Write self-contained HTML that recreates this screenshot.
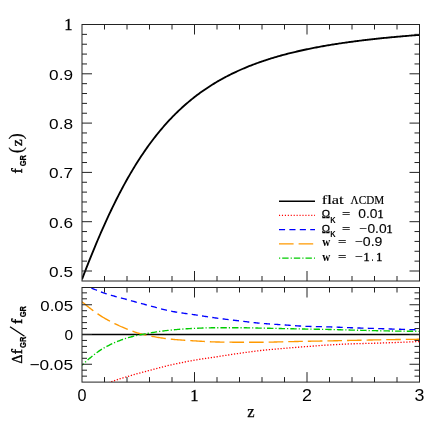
<!DOCTYPE html>
<html><head><meta charset="utf-8"><title>f_GR(z)</title>
<style>
html,body{margin:0;padding:0;background:#fff;}
body{width:443px;height:443px;overflow:hidden;font-family:"Liberation Sans",sans-serif;}
svg{display:block;will-change:transform;opacity:0.999;}
text{fill:#000;}
</style></head>
<body>
<svg width="443" height="443" viewBox="0 0 443 443">
<rect x="0" y="0" width="443" height="443" fill="#fff"/>
<defs>
<clipPath id="c1"><rect x="82.0" y="24.5" width="337.5" height="256.5"/></clipPath>
<clipPath id="c2"><rect x="82.0" y="287.5" width="337.5" height="94.60000000000002"/></clipPath>
</defs>
<g fill="none" stroke-width="1.35" clip-path="url(#c2)">
<path d="M82.0,334.5H419.5" stroke="#000" stroke-width="1.5"/>
<path d="M82.00,395.27 L83.12,394.65 L84.25,394.05 L85.38,393.45 L86.50,392.86 L87.62,392.27 L88.75,391.70 L89.88,391.13 L91.00,390.57 L92.12,390.02 L93.25,389.47 L94.38,388.93 L95.50,388.40 L96.62,387.88 L97.75,387.37 L98.88,386.86 L100.00,386.36 L101.12,385.87 L102.25,385.39 L103.38,384.91 L104.50,384.44 L105.62,383.98 L106.75,383.53 L107.88,383.08 L109.00,382.64 L110.12,382.21 L111.25,381.78 L112.38,381.37 L113.50,380.96 L114.62,380.57 L115.75,380.19 L116.88,379.81 L118.00,379.45 L119.12,379.09 L120.25,378.74 L121.38,378.39 L122.50,378.04 L123.62,377.70 L124.75,377.36 L125.88,377.02 L127.00,376.69 L128.12,376.35 L129.25,376.01 L130.38,375.68 L131.50,375.35 L132.62,375.02 L133.75,374.70 L134.88,374.38 L136.00,374.06 L137.12,373.74 L138.25,373.43 L139.38,373.11 L140.50,372.80 L141.62,372.49 L142.75,372.19 L143.88,371.88 L145.00,371.58 L146.12,371.27 L147.25,370.97 L148.38,370.67 L149.50,370.37 L150.62,370.07 L151.75,369.78 L152.88,369.48 L154.00,369.18 L155.12,368.88 L156.25,368.59 L157.38,368.29 L158.50,368.00 L159.62,367.71 L160.75,367.42 L161.88,367.14 L163.00,366.85 L164.12,366.57 L165.25,366.30 L166.38,366.02 L167.50,365.75 L168.62,365.48 L169.75,365.22 L170.88,364.96 L172.00,364.71 L173.12,364.46 L174.25,364.21 L175.38,363.96 L176.50,363.72 L177.62,363.47 L178.75,363.23 L179.88,362.99 L181.00,362.76 L182.12,362.52 L183.25,362.29 L184.38,362.07 L185.50,361.84 L186.62,361.62 L187.75,361.40 L188.88,361.19 L190.00,360.98 L191.12,360.77 L192.25,360.56 L193.38,360.36 L194.50,360.17 L195.62,359.97 L196.75,359.78 L197.88,359.60 L199.00,359.42 L200.12,359.24 L201.25,359.07 L202.38,358.90 L203.50,358.73 L204.62,358.56 L205.75,358.39 L206.88,358.23 L208.00,358.07 L209.12,357.90 L210.25,357.74 L211.38,357.58 L212.50,357.41 L213.62,357.25 L214.75,357.08 L215.88,356.91 L217.00,356.74 L218.12,356.57 L219.25,356.40 L220.38,356.22 L221.50,356.05 L222.62,355.88 L223.75,355.70 L224.88,355.53 L226.00,355.35 L227.12,355.17 L228.25,355.00 L229.38,354.83 L230.50,354.65 L231.62,354.48 L232.75,354.31 L233.88,354.14 L235.00,353.97 L236.12,353.81 L237.25,353.64 L238.38,353.48 L239.50,353.32 L240.62,353.16 L241.75,353.00 L242.88,352.84 L244.00,352.69 L245.12,352.53 L246.25,352.37 L247.38,352.21 L248.50,352.06 L249.62,351.90 L250.75,351.75 L251.88,351.60 L253.00,351.45 L254.12,351.30 L255.25,351.16 L256.38,351.02 L257.50,350.88 L258.62,350.75 L259.75,350.62 L260.88,350.49 L262.00,350.37 L263.12,350.25 L264.25,350.14 L265.38,350.03 L266.50,349.92 L267.62,349.81 L268.75,349.71 L269.88,349.61 L271.00,349.50 L272.12,349.41 L273.25,349.31 L274.38,349.21 L275.50,349.12 L276.62,349.02 L277.75,348.93 L278.88,348.84 L280.00,348.74 L281.12,348.65 L282.25,348.55 L283.38,348.46 L284.50,348.37 L285.62,348.27 L286.75,348.17 L287.88,348.08 L289.00,347.98 L290.12,347.89 L291.25,347.80 L292.38,347.70 L293.50,347.61 L294.62,347.52 L295.75,347.42 L296.88,347.33 L298.00,347.24 L299.12,347.15 L300.25,347.06 L301.38,346.97 L302.50,346.88 L303.62,346.80 L304.75,346.71 L305.88,346.62 L307.00,346.54 L308.12,346.45 L309.25,346.37 L310.38,346.28 L311.50,346.19 L312.62,346.11 L313.75,346.02 L314.88,345.94 L316.00,345.86 L317.12,345.77 L318.25,345.69 L319.38,345.61 L320.50,345.53 L321.62,345.45 L322.75,345.37 L323.88,345.30 L325.00,345.22 L326.12,345.15 L327.25,345.08 L328.38,345.01 L329.50,344.94 L330.62,344.88 L331.75,344.81 L332.88,344.75 L334.00,344.68 L335.12,344.62 L336.25,344.56 L337.38,344.49 L338.50,344.43 L339.62,344.37 L340.75,344.31 L341.88,344.26 L343.00,344.20 L344.12,344.15 L345.25,344.09 L346.38,344.04 L347.50,344.00 L348.62,343.95 L349.75,343.90 L350.88,343.86 L352.00,343.82 L353.12,343.78 L354.25,343.75 L355.38,343.72 L356.50,343.68 L357.62,343.65 L358.75,343.62 L359.88,343.59 L361.00,343.57 L362.12,343.54 L363.25,343.51 L364.38,343.49 L365.50,343.46 L366.62,343.44 L367.75,343.41 L368.88,343.38 L370.00,343.35 L371.12,343.33 L372.25,343.30 L373.38,343.26 L374.50,343.23 L375.62,343.20 L376.75,343.16 L377.88,343.13 L379.00,343.09 L380.12,343.06 L381.25,343.02 L382.38,342.98 L383.50,342.95 L384.62,342.91 L385.75,342.87 L386.88,342.83 L388.00,342.79 L389.12,342.75 L390.25,342.71 L391.38,342.67 L392.50,342.63 L393.62,342.59 L394.75,342.55 L395.88,342.51 L397.00,342.46 L398.12,342.42 L399.25,342.38 L400.38,342.34 L401.50,342.29 L402.62,342.25 L403.75,342.20 L404.88,342.16 L406.00,342.11 L407.12,342.06 L408.25,342.02 L409.38,341.97 L410.50,341.92 L411.62,341.87 L412.75,341.82 L413.88,341.77 L415.00,341.72 L416.12,341.67 L417.25,341.62 L418.38,341.57 L419.50,341.52" stroke="#ff0000" stroke-dasharray="1.25 1.68" stroke-width="1.3"/>
<path d="M82.00,283.47 L83.12,284.04 L84.25,284.61 L85.38,285.18 L86.50,285.73 L87.62,286.27 L88.75,286.79 L89.88,287.30 L91.00,287.80 L92.12,288.29 L93.25,288.79 L94.38,289.27 L95.50,289.75 L96.62,290.22 L97.75,290.68 L98.88,291.13 L100.00,291.57 L101.12,292.00 L102.25,292.41 L103.38,292.81 L104.50,293.20 L105.62,293.57 L106.75,293.94 L107.88,294.29 L109.00,294.63 L110.12,294.97 L111.25,295.30 L112.38,295.62 L113.50,295.93 L114.62,296.25 L115.75,296.55 L116.88,296.86 L118.00,297.16 L119.12,297.46 L120.25,297.75 L121.38,298.05 L122.50,298.35 L123.62,298.65 L124.75,298.96 L125.88,299.26 L127.00,299.57 L128.12,299.88 L129.25,300.20 L130.38,300.51 L131.50,300.82 L132.62,301.13 L133.75,301.45 L134.88,301.76 L136.00,302.07 L137.12,302.38 L138.25,302.69 L139.38,302.99 L140.50,303.30 L141.62,303.61 L142.75,303.91 L143.88,304.21 L145.00,304.52 L146.12,304.82 L147.25,305.12 L148.38,305.41 L149.50,305.71 L150.62,306.00 L151.75,306.31 L152.88,306.61 L154.00,306.92 L155.12,307.22 L156.25,307.53 L157.38,307.84 L158.50,308.14 L159.62,308.45 L160.75,308.75 L161.88,309.04 L163.00,309.34 L164.12,309.62 L165.25,309.90 L166.38,310.17 L167.50,310.43 L168.62,310.68 L169.75,310.92 L170.88,311.15 L172.00,311.37 L173.12,311.58 L174.25,311.78 L175.38,311.97 L176.50,312.15 L177.62,312.33 L178.75,312.51 L179.88,312.67 L181.00,312.84 L182.12,313.00 L183.25,313.16 L184.38,313.31 L185.50,313.47 L186.62,313.62 L187.75,313.78 L188.88,313.93 L190.00,314.09 L191.12,314.24 L192.25,314.40 L193.38,314.57 L194.50,314.74 L195.62,314.91 L196.75,315.08 L197.88,315.25 L199.00,315.43 L200.12,315.60 L201.25,315.78 L202.38,315.96 L203.50,316.14 L204.62,316.31 L205.75,316.49 L206.88,316.67 L208.00,316.84 L209.12,317.02 L210.25,317.19 L211.38,317.36 L212.50,317.52 L213.62,317.69 L214.75,317.85 L215.88,318.00 L217.00,318.16 L218.12,318.31 L219.25,318.45 L220.38,318.60 L221.50,318.74 L222.62,318.88 L223.75,319.02 L224.88,319.16 L226.00,319.30 L227.12,319.43 L228.25,319.56 L229.38,319.70 L230.50,319.83 L231.62,319.96 L232.75,320.09 L233.88,320.22 L235.00,320.35 L236.12,320.48 L237.25,320.61 L238.38,320.74 L239.50,320.87 L240.62,321.00 L241.75,321.14 L242.88,321.27 L244.00,321.41 L245.12,321.55 L246.25,321.68 L247.38,321.82 L248.50,321.96 L249.62,322.09 L250.75,322.23 L251.88,322.36 L253.00,322.49 L254.12,322.62 L255.25,322.74 L256.38,322.87 L257.50,322.98 L258.62,323.10 L259.75,323.21 L260.88,323.31 L262.00,323.41 L263.12,323.50 L264.25,323.59 L265.38,323.68 L266.50,323.77 L267.62,323.85 L268.75,323.93 L269.88,324.01 L271.00,324.08 L272.12,324.16 L273.25,324.23 L274.38,324.30 L275.50,324.37 L276.62,324.44 L277.75,324.51 L278.88,324.58 L280.00,324.66 L281.12,324.73 L282.25,324.80 L283.38,324.87 L284.50,324.94 L285.62,325.02 L286.75,325.09 L287.88,325.17 L289.00,325.25 L290.12,325.33 L291.25,325.42 L292.38,325.50 L293.50,325.58 L294.62,325.66 L295.75,325.74 L296.88,325.81 L298.00,325.89 L299.12,325.96 L300.25,326.03 L301.38,326.10 L302.50,326.16 L303.62,326.22 L304.75,326.27 L305.88,326.32 L307.00,326.36 L308.12,326.40 L309.25,326.43 L310.38,326.46 L311.50,326.49 L312.62,326.52 L313.75,326.54 L314.88,326.57 L316.00,326.59 L317.12,326.62 L318.25,326.64 L319.38,326.66 L320.50,326.68 L321.62,326.70 L322.75,326.73 L323.88,326.75 L325.00,326.77 L326.12,326.80 L327.25,326.83 L328.38,326.86 L329.50,326.89 L330.62,326.92 L331.75,326.96 L332.88,327.00 L334.00,327.04 L335.12,327.08 L336.25,327.13 L337.38,327.17 L338.50,327.22 L339.62,327.27 L340.75,327.32 L341.88,327.36 L343.00,327.41 L344.12,327.46 L345.25,327.51 L346.38,327.56 L347.50,327.60 L348.62,327.65 L349.75,327.69 L350.88,327.73 L352.00,327.77 L353.12,327.81 L354.25,327.85 L355.38,327.89 L356.50,327.93 L357.62,327.96 L358.75,328.00 L359.88,328.03 L361.00,328.07 L362.12,328.10 L363.25,328.14 L364.38,328.17 L365.50,328.21 L366.62,328.24 L367.75,328.27 L368.88,328.31 L370.00,328.34 L371.12,328.38 L372.25,328.41 L373.38,328.45 L374.50,328.48 L375.62,328.52 L376.75,328.55 L377.88,328.59 L379.00,328.62 L380.12,328.66 L381.25,328.70 L382.38,328.73 L383.50,328.77 L384.62,328.80 L385.75,328.84 L386.88,328.88 L388.00,328.91 L389.12,328.95 L390.25,328.98 L391.38,329.02 L392.50,329.05 L393.62,329.09 L394.75,329.12 L395.88,329.16 L397.00,329.19 L398.12,329.22 L399.25,329.26 L400.38,329.29 L401.50,329.32 L402.62,329.36 L403.75,329.39 L404.88,329.42 L406.00,329.46 L407.12,329.49 L408.25,329.52 L409.38,329.55 L410.50,329.59 L411.62,329.62 L412.75,329.65 L413.88,329.68 L415.00,329.71 L416.12,329.75 L417.25,329.78 L418.38,329.81 L419.50,329.84" stroke="#0000ff" stroke-dasharray="6.1 4.3"/>
<path d="M82.00,301.70 L83.12,302.65 L84.25,303.60 L85.38,304.53 L86.50,305.45 L87.62,306.36 L88.75,307.25 L89.88,308.13 L91.00,309.00 L92.12,309.85 L93.25,310.69 L94.38,311.51 L95.50,312.32 L96.62,313.11 L97.75,313.88 L98.88,314.64 L100.00,315.38 L101.12,316.10 L102.25,316.81 L103.38,317.49 L104.50,318.16 L105.62,318.81 L106.75,319.45 L107.88,320.07 L109.00,320.69 L110.12,321.30 L111.25,321.89 L112.38,322.47 L113.50,323.04 L114.62,323.61 L115.75,324.16 L116.88,324.70 L118.00,325.22 L119.12,325.74 L120.25,326.25 L121.38,326.75 L122.50,327.23 L123.62,327.71 L124.75,328.17 L125.88,328.63 L127.00,329.07 L128.12,329.51 L129.25,329.95 L130.38,330.38 L131.50,330.80 L132.62,331.22 L133.75,331.62 L134.88,332.02 L136.00,332.40 L137.12,332.77 L138.25,333.13 L139.38,333.47 L140.50,333.79 L141.62,334.09 L142.75,334.37 L143.88,334.63 L145.00,334.88 L146.12,335.13 L147.25,335.37 L148.38,335.61 L149.50,335.84 L150.62,336.07 L151.75,336.29 L152.88,336.50 L154.00,336.71 L155.12,336.92 L156.25,337.12 L157.38,337.31 L158.50,337.50 L159.62,337.68 L160.75,337.86 L161.88,338.03 L163.00,338.19 L164.12,338.35 L165.25,338.50 L166.38,338.65 L167.50,338.79 L168.62,338.92 L169.75,339.05 L170.88,339.17 L172.00,339.28 L173.12,339.39 L174.25,339.49 L175.38,339.59 L176.50,339.68 L177.62,339.78 L178.75,339.86 L179.88,339.95 L181.00,340.03 L182.12,340.11 L183.25,340.19 L184.38,340.26 L185.50,340.33 L186.62,340.40 L187.75,340.47 L188.88,340.54 L190.00,340.61 L191.12,340.67 L192.25,340.74 L193.38,340.81 L194.50,340.87 L195.62,340.94 L196.75,341.01 L197.88,341.08 L199.00,341.14 L200.12,341.21 L201.25,341.28 L202.38,341.35 L203.50,341.42 L204.62,341.48 L205.75,341.55 L206.88,341.61 L208.00,341.67 L209.12,341.72 L210.25,341.78 L211.38,341.82 L212.50,341.87 L213.62,341.91 L214.75,341.94 L215.88,341.97 L217.00,341.99 L218.12,342.01 L219.25,342.03 L220.38,342.05 L221.50,342.07 L222.62,342.08 L223.75,342.10 L224.88,342.12 L226.00,342.13 L227.12,342.15 L228.25,342.16 L229.38,342.17 L230.50,342.18 L231.62,342.19 L232.75,342.20 L233.88,342.21 L235.00,342.22 L236.12,342.22 L237.25,342.23 L238.38,342.23 L239.50,342.23 L240.62,342.23 L241.75,342.23 L242.88,342.23 L244.00,342.23 L245.12,342.23 L246.25,342.23 L247.38,342.23 L248.50,342.23 L249.62,342.23 L250.75,342.23 L251.88,342.23 L253.00,342.23 L254.12,342.23 L255.25,342.23 L256.38,342.23 L257.50,342.23 L258.62,342.23 L259.75,342.23 L260.88,342.23 L262.00,342.23 L263.12,342.23 L264.25,342.22 L265.38,342.21 L266.50,342.20 L267.62,342.18 L268.75,342.16 L269.88,342.13 L271.00,342.11 L272.12,342.08 L273.25,342.05 L274.38,342.02 L275.50,341.99 L276.62,341.96 L277.75,341.93 L278.88,341.90 L280.00,341.87 L281.12,341.84 L282.25,341.81 L283.38,341.78 L284.50,341.76 L285.62,341.73 L286.75,341.71 L287.88,341.69 L289.00,341.66 L290.12,341.64 L291.25,341.61 L292.38,341.59 L293.50,341.57 L294.62,341.54 L295.75,341.52 L296.88,341.49 L298.00,341.47 L299.12,341.45 L300.25,341.42 L301.38,341.40 L302.50,341.38 L303.62,341.35 L304.75,341.33 L305.88,341.31 L307.00,341.29 L308.12,341.26 L309.25,341.24 L310.38,341.22 L311.50,341.20 L312.62,341.18 L313.75,341.16 L314.88,341.14 L316.00,341.12 L317.12,341.10 L318.25,341.08 L319.38,341.06 L320.50,341.04 L321.62,341.02 L322.75,341.00 L323.88,340.98 L325.00,340.96 L326.12,340.94 L327.25,340.92 L328.38,340.89 L329.50,340.87 L330.62,340.85 L331.75,340.83 L332.88,340.80 L334.00,340.78 L335.12,340.76 L336.25,340.74 L337.38,340.71 L338.50,340.69 L339.62,340.66 L340.75,340.64 L341.88,340.62 L343.00,340.59 L344.12,340.57 L345.25,340.54 L346.38,340.52 L347.50,340.50 L348.62,340.47 L349.75,340.45 L350.88,340.42 L352.00,340.40 L353.12,340.38 L354.25,340.35 L355.38,340.33 L356.50,340.30 L357.62,340.28 L358.75,340.26 L359.88,340.23 L361.00,340.21 L362.12,340.18 L363.25,340.16 L364.38,340.14 L365.50,340.11 L366.62,340.09 L367.75,340.06 L368.88,340.04 L370.00,340.02 L371.12,340.00 L372.25,339.97 L373.38,339.95 L374.50,339.93 L375.62,339.91 L376.75,339.88 L377.88,339.86 L379.00,339.84 L380.12,339.82 L381.25,339.79 L382.38,339.77 L383.50,339.75 L384.62,339.73 L385.75,339.70 L386.88,339.68 L388.00,339.66 L389.12,339.64 L390.25,339.62 L391.38,339.60 L392.50,339.58 L393.62,339.56 L394.75,339.55 L395.88,339.53 L397.00,339.51 L398.12,339.50 L399.25,339.49 L400.38,339.47 L401.50,339.46 L402.62,339.44 L403.75,339.43 L404.88,339.42 L406.00,339.40 L407.12,339.39 L408.25,339.38 L409.38,339.37 L410.50,339.35 L411.62,339.34 L412.75,339.33 L413.88,339.32 L415.00,339.31 L416.12,339.30 L417.25,339.29 L418.38,339.29 L419.50,339.28" stroke="#ff9900" stroke-dasharray="14.6 5"/>
<path d="M82.00,365.30 L83.12,364.22 L84.25,363.16 L85.38,362.12 L86.50,361.09 L87.62,360.08 L88.75,359.09 L89.88,358.12 L91.00,357.17 L92.12,356.24 L93.25,355.33 L94.38,354.44 L95.50,353.58 L96.62,352.74 L97.75,351.93 L98.88,351.15 L100.00,350.39 L101.12,349.66 L102.25,348.96 L103.38,348.30 L104.50,347.66 L105.62,347.04 L106.75,346.44 L107.88,345.85 L109.00,345.28 L110.12,344.72 L111.25,344.18 L112.38,343.65 L113.50,343.13 L114.62,342.63 L115.75,342.15 L116.88,341.67 L118.00,341.21 L119.12,340.77 L120.25,340.34 L121.38,339.92 L122.50,339.51 L123.62,339.13 L124.75,338.75 L125.88,338.39 L127.00,338.04 L128.12,337.70 L129.25,337.38 L130.38,337.07 L131.50,336.77 L132.62,336.48 L133.75,336.20 L134.88,335.93 L136.00,335.67 L137.12,335.42 L138.25,335.18 L139.38,334.94 L140.50,334.72 L141.62,334.50 L142.75,334.29 L143.88,334.08 L145.00,333.87 L146.12,333.66 L147.25,333.46 L148.38,333.26 L149.50,333.06 L150.62,332.87 L151.75,332.68 L152.88,332.49 L154.00,332.31 L155.12,332.13 L156.25,331.95 L157.38,331.78 L158.50,331.61 L159.62,331.45 L160.75,331.29 L161.88,331.13 L163.00,330.98 L164.12,330.84 L165.25,330.69 L166.38,330.56 L167.50,330.43 L168.62,330.30 L169.75,330.18 L170.88,330.07 L172.00,329.96 L173.12,329.85 L174.25,329.75 L175.38,329.65 L176.50,329.55 L177.62,329.45 L178.75,329.36 L179.88,329.27 L181.00,329.18 L182.12,329.09 L183.25,329.01 L184.38,328.93 L185.50,328.85 L186.62,328.78 L187.75,328.71 L188.88,328.64 L190.00,328.58 L191.12,328.52 L192.25,328.46 L193.38,328.41 L194.50,328.36 L195.62,328.32 L196.75,328.27 L197.88,328.22 L199.00,328.18 L200.12,328.13 L201.25,328.09 L202.38,328.04 L203.50,328.00 L204.62,327.96 L205.75,327.92 L206.88,327.89 L208.00,327.85 L209.12,327.82 L210.25,327.80 L211.38,327.77 L212.50,327.75 L213.62,327.74 L214.75,327.72 L215.88,327.72 L217.00,327.71 L218.12,327.71 L219.25,327.71 L220.38,327.71 L221.50,327.71 L222.62,327.71 L223.75,327.71 L224.88,327.71 L226.00,327.71 L227.12,327.71 L228.25,327.71 L229.38,327.71 L230.50,327.71 L231.62,327.71 L232.75,327.71 L233.88,327.71 L235.00,327.71 L236.12,327.71 L237.25,327.71 L238.38,327.71 L239.50,327.71 L240.62,327.72 L241.75,327.72 L242.88,327.73 L244.00,327.74 L245.12,327.76 L246.25,327.78 L247.38,327.80 L248.50,327.82 L249.62,327.84 L250.75,327.87 L251.88,327.89 L253.00,327.92 L254.12,327.95 L255.25,327.97 L256.38,328.00 L257.50,328.03 L258.62,328.06 L259.75,328.08 L260.88,328.11 L262.00,328.13 L263.12,328.15 L264.25,328.17 L265.38,328.20 L266.50,328.22 L267.62,328.24 L268.75,328.26 L269.88,328.29 L271.00,328.31 L272.12,328.34 L273.25,328.36 L274.38,328.38 L275.50,328.41 L276.62,328.43 L277.75,328.46 L278.88,328.48 L280.00,328.50 L281.12,328.53 L282.25,328.55 L283.38,328.58 L284.50,328.60 L285.62,328.62 L286.75,328.65 L287.88,328.67 L289.00,328.70 L290.12,328.72 L291.25,328.74 L292.38,328.77 L293.50,328.79 L294.62,328.82 L295.75,328.84 L296.88,328.86 L298.00,328.89 L299.12,328.91 L300.25,328.94 L301.38,328.96 L302.50,328.98 L303.62,329.00 L304.75,329.03 L305.88,329.05 L307.00,329.07 L308.12,329.09 L309.25,329.11 L310.38,329.14 L311.50,329.16 L312.62,329.18 L313.75,329.20 L314.88,329.21 L316.00,329.23 L317.12,329.25 L318.25,329.27 L319.38,329.29 L320.50,329.31 L321.62,329.33 L322.75,329.35 L323.88,329.37 L325.00,329.39 L326.12,329.42 L327.25,329.44 L328.38,329.46 L329.50,329.49 L330.62,329.51 L331.75,329.54 L332.88,329.56 L334.00,329.59 L335.12,329.62 L336.25,329.65 L337.38,329.68 L338.50,329.71 L339.62,329.74 L340.75,329.77 L341.88,329.80 L343.00,329.83 L344.12,329.86 L345.25,329.89 L346.38,329.92 L347.50,329.95 L348.62,329.98 L349.75,330.02 L350.88,330.05 L352.00,330.07 L353.12,330.10 L354.25,330.13 L355.38,330.17 L356.50,330.20 L357.62,330.23 L358.75,330.26 L359.88,330.29 L361.00,330.32 L362.12,330.35 L363.25,330.38 L364.38,330.41 L365.50,330.44 L366.62,330.47 L367.75,330.50 L368.88,330.53 L370.00,330.56 L371.12,330.59 L372.25,330.61 L373.38,330.64 L374.50,330.67 L375.62,330.69 L376.75,330.71 L377.88,330.74 L379.00,330.76 L380.12,330.78 L381.25,330.81 L382.38,330.83 L383.50,330.85 L384.62,330.87 L385.75,330.89 L386.88,330.92 L388.00,330.94 L389.12,330.96 L390.25,330.98 L391.38,330.99 L392.50,331.01 L393.62,331.03 L394.75,331.05 L395.88,331.06 L397.00,331.08 L398.12,331.09 L399.25,331.11 L400.38,331.12 L401.50,331.14 L402.62,331.15 L403.75,331.16 L404.88,331.18 L406.00,331.19 L407.12,331.20 L408.25,331.22 L409.38,331.23 L410.50,331.24 L411.62,331.25 L412.75,331.26 L413.88,331.27 L415.00,331.28 L416.12,331.29 L417.25,331.30 L418.38,331.31 L419.50,331.31" stroke="#00cc00" stroke-dasharray="6.4 2 1.2 2.05" stroke-dashoffset="4"/>
</g>
<g fill="none" clip-path="url(#c1)">
<path d="M82.00,279.31 L83.12,276.36 L84.25,273.44 L85.38,270.54 L86.50,267.65 L87.62,264.79 L88.75,261.94 L89.88,259.12 L91.00,256.32 L92.12,253.54 L93.25,250.79 L94.38,248.06 L95.50,245.35 L96.62,242.66 L97.75,240.00 L98.88,237.36 L100.00,234.75 L101.12,232.16 L102.25,229.60 L103.38,227.06 L104.50,224.54 L105.62,222.05 L106.75,219.58 L107.88,217.14 L109.00,214.73 L110.12,212.34 L111.25,209.98 L112.38,207.64 L113.50,205.32 L114.62,203.04 L115.75,200.77 L116.88,198.54 L118.00,196.33 L119.12,194.14 L120.25,191.98 L121.38,189.84 L122.50,187.73 L123.62,185.65 L124.75,183.59 L125.88,181.55 L127.00,179.54 L128.12,177.55 L129.25,175.59 L130.38,173.65 L131.50,171.74 L132.62,169.85 L133.75,167.98 L134.88,166.14 L136.00,164.32 L137.12,162.53 L138.25,160.76 L139.38,159.01 L140.50,157.28 L141.62,155.58 L142.75,153.90 L143.88,152.24 L145.00,150.61 L146.12,148.99 L147.25,147.40 L148.38,145.83 L149.50,144.28 L150.62,142.75 L151.75,141.24 L152.88,139.75 L154.00,138.28 L155.12,136.84 L156.25,135.41 L157.38,134.00 L158.50,132.61 L159.62,131.24 L160.75,129.89 L161.88,128.56 L163.00,127.24 L164.12,125.95 L165.25,124.67 L166.38,123.41 L167.50,122.17 L168.62,120.95 L169.75,119.74 L170.88,118.55 L172.00,117.38 L173.12,116.22 L174.25,115.08 L175.38,113.95 L176.50,112.85 L177.62,111.75 L178.75,110.67 L179.88,109.61 L181.00,108.56 L182.12,107.53 L183.25,106.51 L184.38,105.51 L185.50,104.52 L186.62,103.54 L187.75,102.58 L188.88,101.63 L190.00,100.70 L191.12,99.78 L192.25,98.87 L193.38,97.97 L194.50,97.09 L195.62,96.22 L196.75,95.36 L197.88,94.51 L199.00,93.68 L200.12,92.86 L201.25,92.05 L202.38,91.25 L203.50,90.46 L204.62,89.68 L205.75,88.91 L206.88,88.16 L208.00,87.41 L209.12,86.68 L210.25,85.95 L211.38,85.24 L212.50,84.53 L213.62,83.84 L214.75,83.15 L215.88,82.48 L217.00,81.81 L218.12,81.15 L219.25,80.51 L220.38,79.87 L221.50,79.24 L222.62,78.62 L223.75,78.00 L224.88,77.40 L226.00,76.80 L227.12,76.21 L228.25,75.63 L229.38,75.06 L230.50,74.50 L231.62,73.94 L232.75,73.39 L233.88,72.85 L235.00,72.31 L236.12,71.79 L237.25,71.27 L238.38,70.75 L239.50,70.25 L240.62,69.75 L241.75,69.25 L242.88,68.77 L244.00,68.29 L245.12,67.81 L246.25,67.35 L247.38,66.89 L248.50,66.43 L249.62,65.98 L250.75,65.54 L251.88,65.10 L253.00,64.67 L254.12,64.24 L255.25,63.82 L256.38,63.41 L257.50,63.00 L258.62,62.60 L259.75,62.20 L260.88,61.80 L262.00,61.41 L263.12,61.03 L264.25,60.65 L265.38,60.28 L266.50,59.91 L267.62,59.54 L268.75,59.18 L269.88,58.83 L271.00,58.48 L272.12,58.13 L273.25,57.79 L274.38,57.45 L275.50,57.12 L276.62,56.79 L277.75,56.47 L278.88,56.14 L280.00,55.83 L281.12,55.51 L282.25,55.20 L283.38,54.90 L284.50,54.60 L285.62,54.30 L286.75,54.01 L287.88,53.71 L289.00,53.43 L290.12,53.14 L291.25,52.86 L292.38,52.59 L293.50,52.31 L294.62,52.04 L295.75,51.78 L296.88,51.51 L298.00,51.25 L299.12,50.99 L300.25,50.74 L301.38,50.49 L302.50,50.24 L303.62,49.99 L304.75,49.75 L305.88,49.51 L307.00,49.28 L308.12,49.04 L309.25,48.81 L310.38,48.58 L311.50,48.35 L312.62,48.13 L313.75,47.91 L314.88,47.69 L316.00,47.48 L317.12,47.26 L318.25,47.05 L319.38,46.84 L320.50,46.64 L321.62,46.43 L322.75,46.23 L323.88,46.03 L325.00,45.84 L326.12,45.64 L327.25,45.45 L328.38,45.26 L329.50,45.07 L330.62,44.88 L331.75,44.70 L332.88,44.52 L334.00,44.34 L335.12,44.16 L336.25,43.98 L337.38,43.81 L338.50,43.64 L339.62,43.46 L340.75,43.30 L341.88,43.13 L343.00,42.96 L344.12,42.80 L345.25,42.64 L346.38,42.48 L347.50,42.32 L348.62,42.17 L349.75,42.01 L350.88,41.86 L352.00,41.71 L353.12,41.56 L354.25,41.41 L355.38,41.26 L356.50,41.12 L357.62,40.97 L358.75,40.83 L359.88,40.69 L361.00,40.55 L362.12,40.41 L363.25,40.28 L364.38,40.14 L365.50,40.01 L366.62,39.87 L367.75,39.74 L368.88,39.61 L370.00,39.49 L371.12,39.36 L372.25,39.23 L373.38,39.11 L374.50,38.98 L375.62,38.86 L376.75,38.74 L377.88,38.62 L379.00,38.50 L380.12,38.39 L381.25,38.27 L382.38,38.16 L383.50,38.04 L384.62,37.93 L385.75,37.82 L386.88,37.71 L388.00,37.60 L389.12,37.49 L390.25,37.38 L391.38,37.28 L392.50,37.17 L393.62,37.07 L394.75,36.96 L395.88,36.86 L397.00,36.76 L398.12,36.66 L399.25,36.56 L400.38,36.46 L401.50,36.36 L402.62,36.27 L403.75,36.17 L404.88,36.07 L406.00,35.98 L407.12,35.89 L408.25,35.80 L409.38,35.70 L410.50,35.61 L411.62,35.52 L412.75,35.43 L413.88,35.35 L415.00,35.26 L416.12,35.17 L417.25,35.09 L418.38,35.00 L419.50,34.92" stroke="#000" stroke-width="1.85" stroke-linejoin="round"/>
</g>
<g fill="none" stroke="#222" stroke-width="1">
<rect x="82.0" y="24.5" width="337.5" height="256.5"/>
<rect x="82.0" y="287.5" width="337.5" height="94.60000000000002"/>
<path d="M104.50,281.00V276.00M104.50,24.50V29.50M127.00,281.00V276.00M127.00,24.50V29.50M149.50,281.00V276.00M149.50,24.50V29.50M172.00,281.00V276.00M172.00,24.50V29.50M194.50,281.00V271.00M194.50,24.50V34.50M217.00,281.00V276.00M217.00,24.50V29.50M239.50,281.00V276.00M239.50,24.50V29.50M262.00,281.00V276.00M262.00,24.50V29.50M284.50,281.00V276.00M284.50,24.50V29.50M307.00,281.00V271.00M307.00,24.50V34.50M329.50,281.00V276.00M329.50,24.50V29.50M352.00,281.00V276.00M352.00,24.50V29.50M374.50,281.00V276.00M374.50,24.50V29.50M397.00,281.00V276.00M397.00,24.50V29.50M104.50,382.10V377.10M104.50,287.50V292.50M127.00,382.10V377.10M127.00,287.50V292.50M149.50,382.10V377.10M149.50,287.50V292.50M172.00,382.10V377.10M172.00,287.50V292.50M194.50,382.10V372.10M194.50,287.50V297.50M217.00,382.10V377.10M217.00,287.50V292.50M239.50,382.10V377.10M239.50,287.50V292.50M262.00,382.10V377.10M262.00,287.50V292.50M284.50,382.10V377.10M284.50,287.50V292.50M307.00,382.10V372.10M307.00,287.50V297.50M329.50,382.10V377.10M329.50,287.50V292.50M352.00,382.10V377.10M352.00,287.50V292.50M374.50,382.10V377.10M374.50,287.50V292.50M397.00,382.10V377.10M397.00,287.50V292.50M82.00,271.00H92.00M419.50,271.00H409.50M82.00,261.14H87.00M419.50,261.14H414.50M82.00,251.28H87.00M419.50,251.28H414.50M82.00,241.42H87.00M419.50,241.42H414.50M82.00,231.56H87.00M419.50,231.56H414.50M82.00,221.70H92.00M419.50,221.70H409.50M82.00,211.84H87.00M419.50,211.84H414.50M82.00,201.98H87.00M419.50,201.98H414.50M82.00,192.12H87.00M419.50,192.12H414.50M82.00,182.26H87.00M419.50,182.26H414.50M82.00,172.40H92.00M419.50,172.40H409.50M82.00,162.54H87.00M419.50,162.54H414.50M82.00,152.68H87.00M419.50,152.68H414.50M82.00,142.82H87.00M419.50,142.82H414.50M82.00,132.96H87.00M419.50,132.96H414.50M82.00,123.10H92.00M419.50,123.10H409.50M82.00,113.24H87.00M419.50,113.24H414.50M82.00,103.38H87.00M419.50,103.38H414.50M82.00,93.52H87.00M419.50,93.52H414.50M82.00,83.66H87.00M419.50,83.66H414.50M82.00,73.80H92.00M419.50,73.80H409.50M82.00,63.94H87.00M419.50,63.94H414.50M82.00,54.08H87.00M419.50,54.08H414.50M82.00,44.22H87.00M419.50,44.22H414.50M82.00,34.36H87.00M419.50,34.36H414.50M82.00,376.15H87.00M419.50,376.15H414.50M82.00,370.20H87.00M419.50,370.20H414.50M82.00,364.25H92.00M419.50,364.25H409.50M82.00,358.30H87.00M419.50,358.30H414.50M82.00,352.35H87.00M419.50,352.35H414.50M82.00,346.40H87.00M419.50,346.40H414.50M82.00,340.45H87.00M419.50,340.45H414.50M82.00,334.50H92.00M419.50,334.50H409.50M82.00,328.55H87.00M419.50,328.55H414.50M82.00,322.60H87.00M419.50,322.60H414.50M82.00,316.65H87.00M419.50,316.65H414.50M82.00,310.70H87.00M419.50,310.70H414.50M82.00,304.75H92.00M419.50,304.75H409.50M82.00,298.80H87.00M419.50,298.80H414.50M82.00,292.85H87.00M419.50,292.85H414.50"/>
</g>
<g fill="none" stroke-width="1.25">
<path d="M279.0,201.2H315.0" stroke="#000" stroke-width="1.35"/>
<path d="M279.0,215.3H315.0" stroke="#ff0000" stroke-dasharray="1.1 1.83" stroke-width="1.15"/>
<path d="M279.0,229.5H315.0" stroke="#0000ff" stroke-dasharray="6.1 4.3"/>
<path d="M279.0,243.8H315.0" stroke="#ff9900" stroke-dasharray="14.6 5"/>
<path d="M279.0,258.2H315.0" stroke="#00cc00" stroke-dasharray="1.2 2 6.4 2.05"/>
</g>
<g>
<text x="68.50" y="30.10" font-size="16.6" font-family="Liberation Serif, serif" text-anchor="middle" stroke="#000" stroke-width="0.3">1</text>
<text x="49.10" y="79.65" font-size="15.5" font-family="Liberation Sans, sans-serif" textLength="23.90" lengthAdjust="spacingAndGlyphs">0.9</text>
<text x="49.10" y="128.95" font-size="15.5" font-family="Liberation Sans, sans-serif" textLength="23.90" lengthAdjust="spacingAndGlyphs">0.8</text>
<text x="49.10" y="178.25" font-size="15.5" font-family="Liberation Sans, sans-serif" textLength="23.90" lengthAdjust="spacingAndGlyphs">0.7</text>
<text x="49.10" y="227.55" font-size="15.5" font-family="Liberation Sans, sans-serif" textLength="23.90" lengthAdjust="spacingAndGlyphs">0.6</text>
<text x="49.10" y="276.85" font-size="15.5" font-family="Liberation Sans, sans-serif" textLength="23.90" lengthAdjust="spacingAndGlyphs">0.5</text>
<text x="40.30" y="310.50" font-size="15.5" font-family="Liberation Sans, sans-serif" textLength="32.70" lengthAdjust="spacingAndGlyphs">0.05</text>
<text x="64.40" y="340.35" font-size="15.5" font-family="Liberation Sans, sans-serif" textLength="8.60" lengthAdjust="spacingAndGlyphs">0</text>
<text x="29.40" y="370.20" font-size="15.5" font-family="Liberation Sans, sans-serif" textLength="43.60" lengthAdjust="spacingAndGlyphs">−0.05</text>
<text x="77.50" y="401.10" font-size="16.1" font-family="Liberation Sans, sans-serif" textLength="9.00" lengthAdjust="spacingAndGlyphs">0</text>
<text x="302.05" y="401.10" font-size="16.1" font-family="Liberation Sans, sans-serif" textLength="9.90" lengthAdjust="spacingAndGlyphs">2</text>
<text x="414.55" y="401.10" font-size="16.1" font-family="Liberation Sans, sans-serif" textLength="9.90" lengthAdjust="spacingAndGlyphs">3</text>
<text x="194.30" y="401.00" font-size="16.6" font-family="Liberation Serif, serif" text-anchor="middle" stroke="#000" stroke-width="0.3">1</text>
<text x="250.80" y="416.60" font-size="16.5" font-family="Liberation Serif, serif" text-anchor="middle" stroke="#000" stroke-width="0.25">z</text>
<g transform="translate(21.9,152.8) rotate(-90)">
<text x="-18.00" y="0.00" font-size="15.5" font-family="Liberation Serif, serif" text-anchor="middle" stroke="#000" stroke-width="0.5">f</text>
<text x="-13.50" y="4.55" font-size="9.1" font-family="Liberation Sans, sans-serif" font-weight="bold" textLength="11.30" lengthAdjust="spacingAndGlyphs" stroke="#000" stroke-width="0.25">GR</text>
<text x="2.55" y="-0.20" font-size="18" font-family="Liberation Serif, serif" text-anchor="middle" stroke="#000" stroke-width="0.25">(</text>
<text x="9.90" y="0.00" font-size="15.5" font-family="Liberation Serif, serif" text-anchor="middle" stroke="#000" stroke-width="0.35">z</text>
<text x="16.50" y="-0.20" font-size="18" font-family="Liberation Serif, serif" text-anchor="middle" stroke="#000" stroke-width="0.25">)</text>
</g>
<g transform="translate(21.9,334.7) rotate(-90)">
<text x="-28.90" y="0.00" font-size="15.5" font-family="Liberation Serif, serif" textLength="8.90" lengthAdjust="spacingAndGlyphs" stroke="#000" stroke-width="0.4">Δ</text>
<text x="-17.00" y="0.00" font-size="15.5" font-family="Liberation Serif, serif" text-anchor="middle" stroke="#000" stroke-width="0.5">f</text>
<text x="-13.20" y="4.55" font-size="9.1" font-family="Liberation Sans, sans-serif" font-weight="bold" textLength="11.30" lengthAdjust="spacingAndGlyphs" stroke="#000" stroke-width="0.25">GR</text>
<path d="M-1.5,2.6L7.9,-11.9" stroke="#000" stroke-width="1.3" fill="none"/>
<text x="13.30" y="0.00" font-size="15.5" font-family="Liberation Serif, serif" text-anchor="middle" stroke="#000" stroke-width="0.5">f</text>
<text x="17.40" y="4.55" font-size="9.1" font-family="Liberation Sans, sans-serif" font-weight="bold" textLength="11.30" lengthAdjust="spacingAndGlyphs" stroke="#000" stroke-width="0.25">GR</text>
</g>
<text x="321.70" y="204.30" font-size="13.0" font-family="Liberation Serif, serif" textLength="21.90" lengthAdjust="spacingAndGlyphs" stroke="#000" stroke-width="0.18">flat</text>
<text x="350.60" y="204.30" font-size="13.0" font-family="Liberation Serif, serif" textLength="33.60" lengthAdjust="spacingAndGlyphs" stroke="#000" stroke-width="0.18">ΛCDM</text>
<text x="321.70" y="218.20" font-size="13.2" font-family="Liberation Serif, serif" textLength="8.30" lengthAdjust="spacingAndGlyphs" stroke="#000" stroke-width="0.3">Ω</text>
<text x="330.20" y="222.60" font-size="9.0" font-family="Liberation Sans, sans-serif" font-weight="bold" textLength="5.40" lengthAdjust="spacingAndGlyphs">K</text>
<text x="342.10" y="218.20" font-size="13.0" font-family="Liberation Serif, serif" textLength="8.30" lengthAdjust="spacingAndGlyphs" stroke="#000" stroke-width="0.18">=</text>
<text x="358.30" y="218.20" font-size="12.3" font-family="Liberation Sans, sans-serif" textLength="19.20" lengthAdjust="spacingAndGlyphs" stroke="#000" stroke-width="0.1">0.0</text>
<text x="380.40" y="218.20" font-size="13.0" font-family="Liberation Serif, serif" text-anchor="middle" stroke="#000" stroke-width="0.3">1</text>
<text x="321.70" y="232.50" font-size="13.2" font-family="Liberation Serif, serif" textLength="8.30" lengthAdjust="spacingAndGlyphs" stroke="#000" stroke-width="0.3">Ω</text>
<text x="330.20" y="236.90" font-size="9.0" font-family="Liberation Sans, sans-serif" font-weight="bold" textLength="5.40" lengthAdjust="spacingAndGlyphs">K</text>
<text x="342.10" y="232.50" font-size="13.0" font-family="Liberation Serif, serif" textLength="8.30" lengthAdjust="spacingAndGlyphs" stroke="#000" stroke-width="0.18">=</text>
<text x="358.90" y="232.50" font-size="13.0" font-family="Liberation Serif, serif" textLength="7.80" lengthAdjust="spacingAndGlyphs" stroke="#000" stroke-width="0.18">−</text>
<text x="367.40" y="232.50" font-size="12.3" font-family="Liberation Sans, sans-serif" textLength="19.20" lengthAdjust="spacingAndGlyphs" stroke="#000" stroke-width="0.1">0.0</text>
<text x="389.50" y="232.50" font-size="13.0" font-family="Liberation Serif, serif" text-anchor="middle" stroke="#000" stroke-width="0.3">1</text>
<text x="322.20" y="246.40" font-size="13.0" font-family="Liberation Serif, serif" font-weight="bold" textLength="8.00" lengthAdjust="spacingAndGlyphs">w</text>
<text x="337.90" y="246.40" font-size="13.0" font-family="Liberation Serif, serif" textLength="8.40" lengthAdjust="spacingAndGlyphs" stroke="#000" stroke-width="0.18">=</text>
<text x="354.70" y="246.40" font-size="13.0" font-family="Liberation Serif, serif" textLength="7.80" lengthAdjust="spacingAndGlyphs" stroke="#000" stroke-width="0.18">−</text>
<text x="322.20" y="260.80" font-size="13.0" font-family="Liberation Serif, serif" font-weight="bold" textLength="8.00" lengthAdjust="spacingAndGlyphs">w</text>
<text x="337.90" y="260.80" font-size="13.0" font-family="Liberation Serif, serif" textLength="8.40" lengthAdjust="spacingAndGlyphs" stroke="#000" stroke-width="0.18">=</text>
<text x="354.70" y="260.80" font-size="13.0" font-family="Liberation Serif, serif" textLength="7.80" lengthAdjust="spacingAndGlyphs" stroke="#000" stroke-width="0.18">−</text>
<text x="362.80" y="246.40" font-size="12.3" font-family="Liberation Sans, sans-serif" textLength="19.60" lengthAdjust="spacingAndGlyphs" stroke="#000" stroke-width="0.1">0.9</text>
<text x="366.60" y="260.80" font-size="13.0" font-family="Liberation Serif, serif" text-anchor="middle" stroke="#000" stroke-width="0.3">1</text>
<text x="371.20" y="260.80" font-size="12.3" font-family="Liberation Sans, sans-serif" textLength="2.40" lengthAdjust="spacingAndGlyphs" stroke="#000" stroke-width="0.1">.</text>
<text x="379.20" y="260.80" font-size="13.0" font-family="Liberation Serif, serif" text-anchor="middle" stroke="#000" stroke-width="0.3">1</text>
</g>
</svg>
</body></html>
